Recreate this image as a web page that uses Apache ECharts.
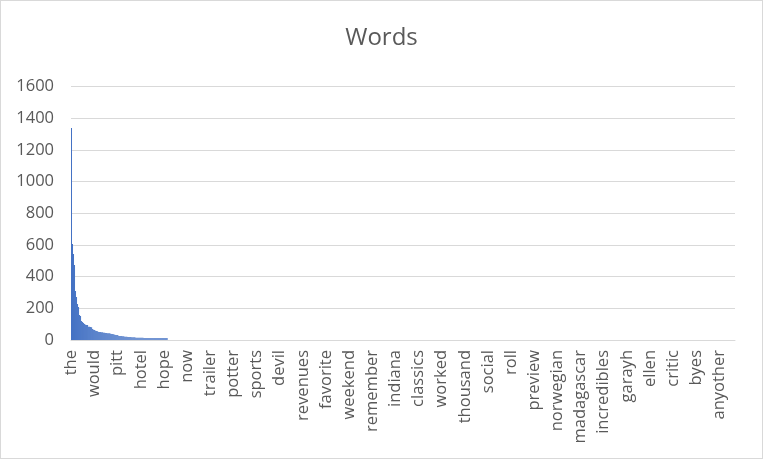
<!DOCTYPE html>
<html>
<head>
<meta charset="utf-8">
<script src="https://cdn.jsdelivr.net/npm/echarts@6/dist/echarts.min.js"></script>
<style>
html,body{margin:0;padding:0;background:#fff;}
#chart{width:763px;height:459px;box-sizing:border-box;border:1px solid #D9D9D9;}
</style>
</head>
<body>
<div id="chart"></div>
<script>
// Tick labels visible on the category axis (every 23rd word)
const shownWords = ["the","would","pitt","hotel","hope","now","trailer","potter","sports","devil",
  "revenues","favorite","weekend","remember","indiana","classics","worked","thousand","social","roll",
  "preview","norwegian","madagascar","incredibles","garayh","ellen","critic","byes","anyother"];
const wordsPerLabel = 23;   // words between two shown labels
const wordCount = 660;      // total number of words on the axis
// Visible word counts (most frequent first); the remaining words are too small to be seen
const counts = [1338,606,543,473,309,271,227,208,158,152,120,114,107,101,
  96,95,94, 84,83,82,81, 69, 64,63, 58,57,56, 51,50,50,49,49,
  45,45,44,44,43,43,43, 39,38,38,37, 33,32,32,31,
  26,26,25,25,24,24,
  20,20,20,19,19,19,19,18,18,18,18,
  14,14,14,14,14,14,14,14,13,13,13,13,13,13,13,13,13,13,13,13,13,12,12,12,12,12,12,12,12,12,12,12];
const yTicks = {min:0, max:1600, interval:200};

const categories = [];
for (let i = 0; i < wordCount; i++) {
  categories.push(i % wordsPerLabel === 0 && shownWords[i / wordsPerLabel] !== undefined ? shownWords[i / wordsPerLabel] : "");
}

const chart = echarts.init(document.getElementById('chart'), null, {renderer:'canvas'});
const font = "'Open Sans', sans-serif";
chart.setOption({
  animation:false,
  title:{text:'Words', left:'center', top:20,
    textStyle:{fontFamily:font, fontSize:24, fontWeight:'normal', color:'#595959'}},
  grid:{left:70, right:27, top:85.5, bottom:118},
  xAxis:{type:'category', data:categories,
    axisLine:{lineStyle:{color:'#D9D9D9', width:1}},
    axisTick:{show:false},
    axisLabel:{interval:wordsPerLabel-1, rotate:90, margin:10, fontFamily:font, fontSize:16.5, color:'#595959'}},
  yAxis:{type:'value', min:yTicks.min, max:yTicks.max, interval:yTicks.interval,
    axisLine:{show:false}, axisTick:{show:false},
    splitLine:{lineStyle:{color:'#D9D9D9', width:1}},
    axisLabel:{margin:17, fontFamily:font, fontSize:16.5, color:'#595959', formatter:v => String(v)}},
  series:[{type:'bar', data:counts, barWidth:'100%', barCategoryGap:'0%',
    itemStyle:{color:'#4472C4'}}]
});
</script>
</body>
</html>
